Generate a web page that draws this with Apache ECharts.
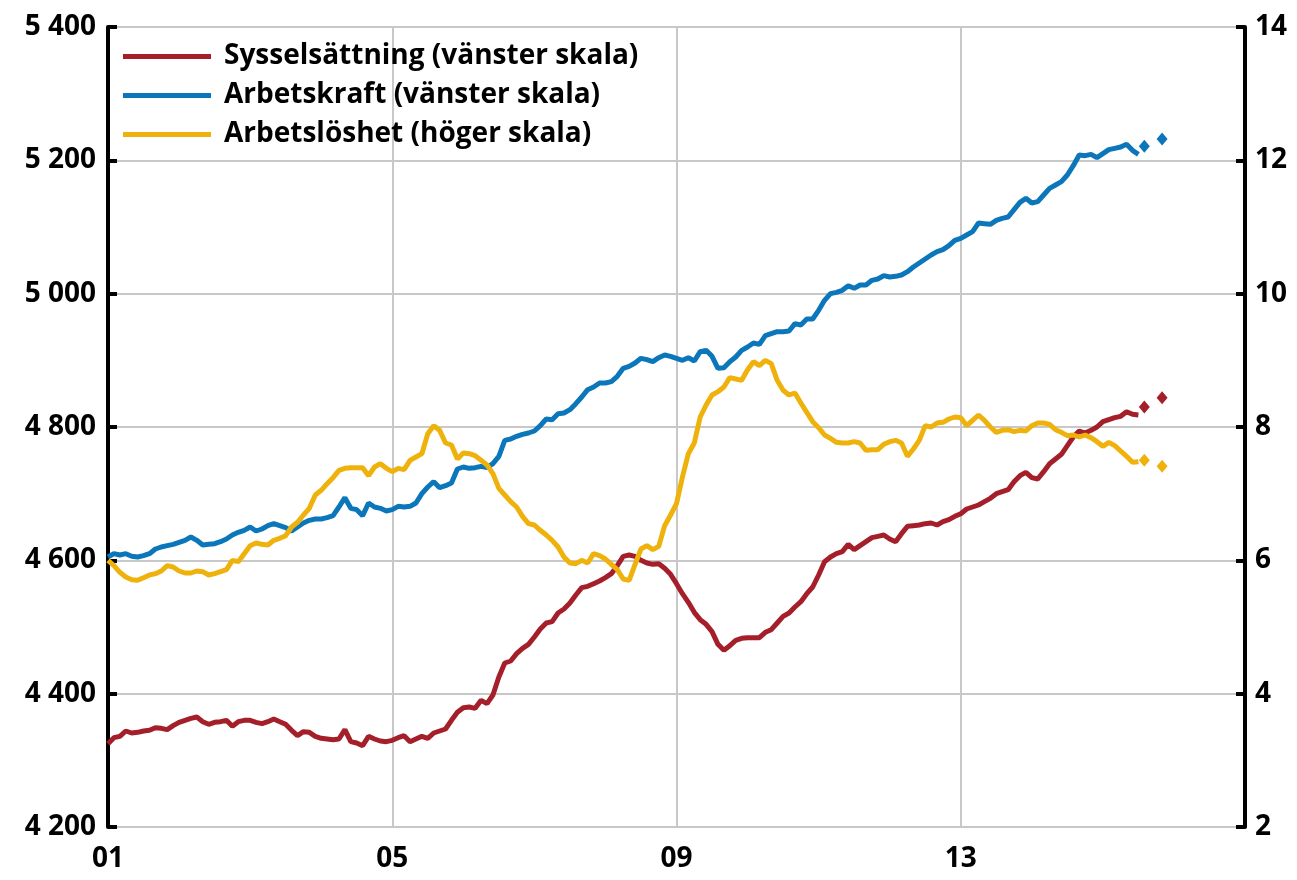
<!DOCTYPE html>
<html>
<head>
<meta charset="utf-8">
<script src="https://cdn.jsdelivr.net/npm/echarts@6/dist/echarts.min.js"></script>
<style>
  html, body { margin: 0; padding: 0; background: #fff; }
  #chart { width: 1297px; height: 880px; }
</style>
</head>
<body>
<div id="chart"></div>
<script>
// monthly data, jan 2001 - jul 2015
var sysselsattning = [
  4325, 4334, 4336, 4344, 4341, 4342, 4344, 4345, 4349, 4348, 4346, 4352,
  4357, 4360, 4363, 4365, 4358, 4354, 4357, 4358, 4360, 4351, 4358, 4360,
  4360, 4357, 4355, 4358, 4362, 4358, 4354, 4345, 4337, 4343, 4342, 4336,
  4333, 4332, 4331, 4332, 4346, 4328, 4326, 4322, 4336, 4332, 4329, 4328,
  4330, 4334, 4337, 4328, 4332, 4336, 4333, 4341, 4344, 4347, 4360, 4372,
  4379, 4380, 4378, 4390, 4385, 4398, 4425, 4446, 4449, 4460, 4468, 4474,
  4485, 4497, 4506, 4508, 4521, 4527, 4536, 4548, 4559, 4561, 4565, 4569,
  4574, 4580, 4592, 4606, 4608, 4606, 4600, 4596, 4594, 4595, 4588, 4579,
  4565, 4550, 4537, 4522, 4511, 4504, 4493, 4474, 4465, 4472, 4480, 4483,
  4484, 4484, 4484, 4492, 4496, 4506, 4516, 4521, 4530, 4538, 4550, 4560,
  4578, 4598, 4605, 4610, 4613, 4624, 4616, 4622, 4628, 4634, 4636, 4638,
  4632, 4628, 4640, 4651, 4652, 4653, 4655, 4656, 4653, 4658, 4661, 4666,
  4670, 4677, 4680, 4683, 4688, 4693, 4700, 4703, 4706, 4718, 4727, 4732,
  4724, 4722, 4733, 4745, 4752, 4759, 4772, 4785, 4794, 4791, 4795, 4800,
  4808, 4811, 4814, 4816, 4823, 4819, 4818
];
var arbetskraft = [
  4605, 4610, 4608, 4610, 4606, 4605, 4607, 4610, 4617, 4620, 4622, 4624,
  4627, 4630, 4635, 4630, 4623, 4624, 4625, 4628, 4632, 4638, 4642, 4645,
  4650, 4644, 4647, 4652, 4655, 4652, 4649, 4644, 4650, 4656, 4660, 4662,
  4662, 4664, 4667, 4680, 4694, 4678, 4676, 4667, 4686, 4680, 4678, 4674,
  4676, 4681, 4680, 4681, 4686, 4700, 4710, 4718, 4709, 4712, 4716, 4737,
  4740, 4738, 4739, 4741, 4739, 4745, 4756, 4780, 4782, 4786, 4789, 4791,
  4794, 4802, 4812, 4811, 4820, 4821, 4826, 4835, 4845, 4856, 4860, 4866,
  4866, 4868, 4876, 4888, 4891, 4896, 4903, 4901, 4898, 4904, 4908, 4906,
  4903, 4900, 4904, 4899, 4913, 4915, 4906, 4888, 4889, 4898, 4905, 4915,
  4920, 4926, 4924, 4937, 4940, 4943, 4943, 4944, 4955, 4953, 4962, 4962,
  4975, 4990, 5000, 5002, 5005, 5012, 5008, 5013, 5013, 5020, 5022, 5027,
  5025, 5026, 5028, 5033, 5040, 5046, 5052, 5058, 5063, 5066, 5072, 5080,
  5083, 5088, 5093, 5106, 5105, 5104, 5110, 5113, 5115, 5126, 5137, 5143,
  5136, 5138, 5148, 5158, 5163, 5168, 5178, 5192, 5208, 5207, 5209, 5204,
  5210, 5216, 5218, 5220, 5224, 5215, 5209
];
var arbetsloshet = [
  6.00, 5.92, 5.82, 5.75, 5.71, 5.70, 5.74, 5.78, 5.80, 5.84, 5.92, 5.90,
  5.84, 5.81, 5.81, 5.84, 5.83, 5.78, 5.80, 5.83, 5.86, 6.00, 5.98, 6.10,
  6.22, 6.26, 6.24, 6.23, 6.30, 6.33, 6.37, 6.50, 6.57, 6.68, 6.78, 6.98,
  7.05, 7.15, 7.24, 7.35, 7.38, 7.39, 7.39, 7.39, 7.27, 7.40, 7.45, 7.38,
  7.33, 7.38, 7.36, 7.50, 7.55, 7.60, 7.90, 8.02, 7.95, 7.76, 7.73, 7.52,
  7.61, 7.60, 7.57, 7.50, 7.43, 7.30, 7.08, 6.98, 6.88, 6.80, 6.66, 6.55,
  6.53, 6.45, 6.38, 6.30, 6.20, 6.05, 5.96, 5.95, 6.00, 5.96, 6.10, 6.07,
  6.02, 5.94, 5.86, 5.72, 5.70, 5.94, 6.17, 6.22, 6.16, 6.21, 6.52, 6.68,
  6.85, 7.25, 7.60, 7.76, 8.15, 8.33, 8.48, 8.53, 8.60, 8.74, 8.72, 8.70,
  8.86, 8.98, 8.92, 9.00, 8.95, 8.70, 8.55, 8.48, 8.51, 8.36, 8.22, 8.08,
  7.99, 7.88, 7.83, 7.77, 7.76, 7.76, 7.78, 7.76, 7.65, 7.66, 7.66, 7.74,
  7.78, 7.80, 7.76, 7.56, 7.67, 7.80, 8.02, 8.00, 8.06, 8.07, 8.12, 8.15,
  8.14, 8.02, 8.10, 8.18, 8.10, 8.00, 7.92, 7.95, 7.96, 7.93, 7.95, 7.94,
  8.02, 8.06, 8.06, 8.04, 7.96, 7.92, 7.87, 7.88, 7.85, 7.88, 7.84, 7.78,
  7.71, 7.77, 7.72, 7.64, 7.56, 7.47, 7.48
];

// forecasts, quarterly (2015 Q3, Q4) placed mid-quarter
var prognosManad = ['2015-08', '2015-11'];
var prognosSyss = [4830, 4844];
var prognosKraft = [5221, 5232];
var prognosLoshet = [7.50, 7.41];

var xTickLabels = ['01', '05', '09', '13'];

var startYear = 2001;
function monthIndex(s) {
  var p = s.split('-');
  return (parseInt(p[0], 10) - startYear) * 12 + parseInt(p[1], 10) - 1;
}
function pairs(vals) {
  return vals.map(function (v, i) { return [i, v]; });
}
function fcPairs(vals) {
  return vals.map(function (v, i) { return [monthIndex(prognosManad[i]), v]; });
}

var red = '#a41f2a';
var blue = '#0b76ba';
var yellow = '#efb20c';
var font = 'Open Sans';

var labelStyle = {
  color: '#000',
  fontFamily: font,
  fontWeight: 'bold',
  fontSize: 28
};

var chart = echarts.init(document.getElementById('chart'));
var option = {
  animation: false,
  backgroundColor: '#fff',
  grid: { left: 108, right: 52, top: 27, bottom: 53 },
  legend: {
    orient: 'vertical',
    left: 118,
    top: 36,
    icon: 'rect',
    itemWidth: 88,
    itemHeight: 5,
    itemGap: 8,
    textStyle: {
      color: '#000',
      fontFamily: font,
      fontWeight: 'bold',
      fontSize: 28,
      lineHeight: 31,
      padding: [0, 0, 0, 8]
    },
    data: ['Sysselsättning (vänster skala)', 'Arbetskraft (vänster skala)', 'Arbetslöshet (höger skala)']
  },
  xAxis: {
    type: 'value',
    min: 0,
    max: 192,
    interval: 48,
    axisLine: { show: false },
    axisTick: { show: false },
    axisLabel: Object.assign({
      margin: 18,
      showMaxLabel: false,
      formatter: function (v) { return xTickLabels[v / 48] || ''; }
    }, labelStyle),
    splitLine: { show: true, lineStyle: { color: '#c8c8c8', width: 2 } }
  },
  yAxis: [
    {
      type: 'value',
      min: 4200,
      max: 5400,
      interval: 200,
      axisLine: { show: true, lineStyle: { color: '#000', width: 4 } },
      axisTick: { show: true, inside: true, length: 9, lineStyle: { color: '#000', width: 4 } },
      axisLabel: Object.assign({
        margin: 12,
        formatter: function (v) {
          var s = String(v);
          return s.slice(0, s.length - 3) + ' ' + s.slice(-3);
        }
      }, labelStyle),
      splitLine: { show: true, lineStyle: { color: '#c8c8c8', width: 2 } }
    },
    {
      type: 'value',
      min: 2,
      max: 14,
      interval: 2,
      position: 'right',
      axisLine: { show: true, lineStyle: { color: '#000', width: 4 } },
      axisTick: { show: true, inside: true, length: 9, lineStyle: { color: '#000', width: 4 } },
      axisLabel: Object.assign({ margin: 10 }, labelStyle),
      splitLine: { show: false }
    }
  ],
  series: [
    {
      name: 'Sysselsättning (vänster skala)',
      type: 'line',
      yAxisIndex: 0,
      showSymbol: false,
      color: red,
      lineStyle: { width: 5 },
      data: pairs(sysselsattning)
    },
    {
      name: 'Arbetskraft (vänster skala)',
      type: 'line',
      yAxisIndex: 0,
      showSymbol: false,
      color: blue,
      lineStyle: { width: 5 },
      data: pairs(arbetskraft)
    },
    {
      name: 'Arbetslöshet (höger skala)',
      type: 'line',
      yAxisIndex: 1,
      showSymbol: false,
      color: yellow,
      lineStyle: { width: 5 },
      data: pairs(arbetsloshet)
    },
    {
      name: 'Prognos sysselsättning',
      type: 'scatter',
      yAxisIndex: 0,
      symbol: 'diamond',
      symbolSize: [11, 13],
      itemStyle: { color: red, opacity: 1 },
      data: fcPairs(prognosSyss)
    },
    {
      name: 'Prognos arbetskraft',
      type: 'scatter',
      yAxisIndex: 0,
      symbol: 'diamond',
      symbolSize: [11, 13],
      itemStyle: { color: blue, opacity: 1 },
      data: fcPairs(prognosKraft)
    },
    {
      name: 'Prognos arbetslöshet',
      type: 'scatter',
      yAxisIndex: 1,
      symbol: 'diamond',
      symbolSize: [11, 13],
      itemStyle: { color: yellow, opacity: 1 },
      data: fcPairs(prognosLoshet)
    }
  ]
};
chart.setOption(option);
</script>
</body>
</html>
